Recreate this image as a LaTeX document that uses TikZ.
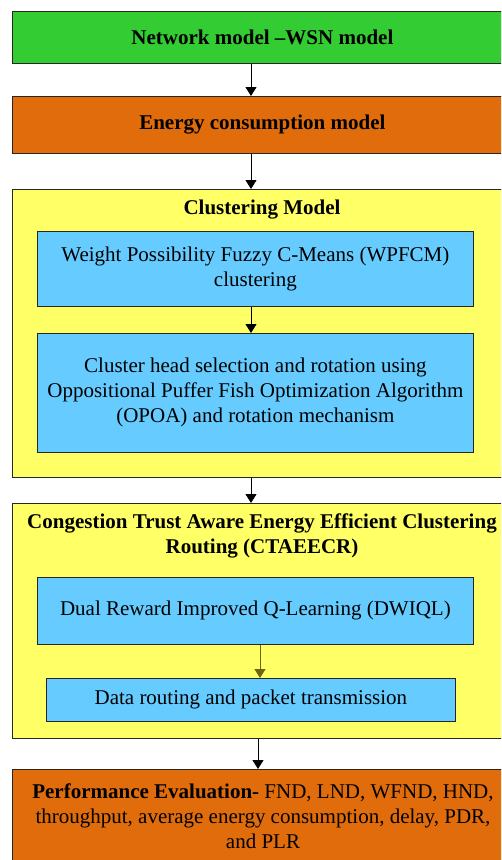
\documentclass[tikz,border=0pt]{standalone}
\usepackage{fontspec}
\setmainfont{Liberation Serif}
\usetikzlibrary{arrows.meta}
\definecolor{cgreen}{RGB}{51,204,51}
\definecolor{corange}{RGB}{224,108,12}
\definecolor{cyellow}{RGB}{255,255,102}
\definecolor{cblue}{RGB}{102,204,255}
\definecolor{colive}{RGB}{110,100,20}
\newcommand{\myfs}{\fontsize{21}{25}\selectfont}
\begin{document}
\begin{tikzpicture}[x=1pt,y=-1pt,
  box/.style={draw=black!85, line width=0.8pt, inner sep=0pt, anchor=north west, align=center},
  outer/.style={box, minimum width=500pt},
  inner/.style={box, fill=cblue, font=\myfs},
  ttl/.style={font=\myfs\bfseries, align=center, inner sep=0pt},
  arr/.style={-{Triangle[width=11pt,length=9pt]}, line width=0.8pt, black}]
\useasboundingbox (0,0) rectangle (501,860);
\clip (0,0) rectangle (501,860);
\coordinate (ax) at (251,0);
\coordinate (bx) at (260,0);
\coordinate (cx) at (258,0);
\node[outer, fill=cgreen, minimum height=52pt, font=\myfs\bfseries] (net) at (12,11) {Network model --WSN model};
\node[outer, fill=corange, minimum height=57pt, font=\myfs\bfseries] (energy) at (12,96) {Energy consumption model};
\node[outer, fill=cyellow, minimum height=288pt] (clust) at (12,189) {};
\node[ttl] (clustt) at (262,210) {Clustering Model};
\node[inner, minimum width=436pt, minimum height=75pt] (wpfcm) at (37,231) {Weight Possibility Fuzzy C-Means (WPFCM)\\clustering};
\node[inner, minimum width=436pt, minimum height=119pt] (opoa) at (37,333) {Cluster head selection and rotation using\\Oppositional Puffer Fish Optimization Algorithm\\(OPOA) and rotation mechanism};
\node[outer, fill=cyellow, minimum height=235pt] (cong) at (12,503) {};
\node[ttl] (congt) at (262,536) {Congestion Trust Aware Energy Efficient Clustering\\Routing (CTAEECR)};
\node[inner, minimum width=436pt, minimum height=67pt] (dwiql) at (37,577) {Dual Reward Improved Q-Learning (DWIQL)};
\node[inner, minimum width=409pt, minimum height=43pt] (data) at (46,678) {Data routing and packet transmission};
\node[outer, fill=corange, minimum height=120pt] (perf) at (12,769) {};
\node[ttl, font=\myfs] (perft) at (263,816) {\textbf{Performance Evaluation-} FND, LND, WFND, HND,\\throughput, average energy consumption, delay, PDR,\\and PLR};
\draw[arr] (net.south -| ax) -- (energy.north -| ax);
\draw[arr] (energy.south -| ax) -- (clust.north -| ax);
\draw[arr] (wpfcm.south -| ax) -- (opoa.north -| ax);
\draw[arr] (clust.south -| ax) -- (cong.north -| ax);
\draw[arr, draw=colive] (dwiql.south -| bx) -- (data.north -| bx);
\draw[arr] (cong.south -| cx) -- (perf.north -| cx);
\end{tikzpicture}
\end{document}
